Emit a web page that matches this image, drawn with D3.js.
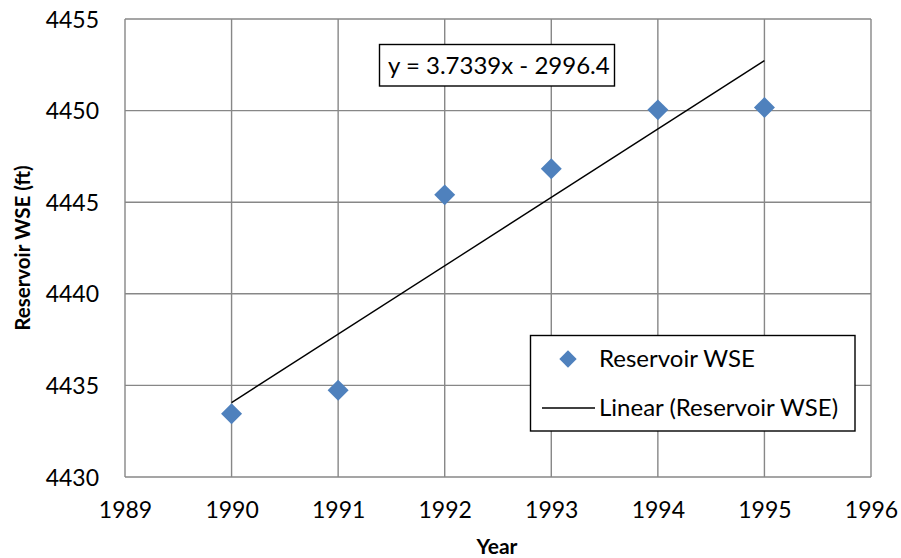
<!DOCTYPE html>
<html><head><meta charset="utf-8">
<script src="https://cdn.jsdelivr.net/npm/d3@7"></script>
<style>body{margin:0;background:#fff}svg{display:block}text{font-family:Lato,"Open Sans",sans-serif}</style>
</head><body><svg id="c" width="901" height="558"></svg>
<script>
const years = [1990, 1991, 1992, 1993, 1994, 1995];
const wse = [4433.45, 4434.73, 4445.40, 4446.82, 4450.04, 4450.17];
const xTicks = [1989, 1990, 1991, 1992, 1993, 1994, 1995, 1996];
const yTicks = [4430, 4435, 4440, 4445, 4450, 4455];
const trendSlope = 3.7339, trendIntercept = -2996.4;
const seriesName = "Reservoir WSE";
const trendName = "Linear (Reservoir WSE)";
const eqLabel = "y = 3.7339x - 2996.4";
const xTitle = "Year", yTitle = "Reservoir WSE (ft)";

const svg = d3.select("#c");
const L = 125, R = 871, T = 19, B = 477;
const x = d3.scaleLinear().domain([1989, 1996]).range([L, R]);
const y = d3.scaleLinear().domain([4430, 4455]).range([B, T]);
const grid = "#878787";

// gridlines
svg.append("g").selectAll("line").data(xTicks).join("line")
  .attr("x1", d => x(d)).attr("x2", d => x(d)).attr("y1", T).attr("y2", B)
  .attr("stroke", grid).attr("stroke-width", 1.4);
svg.append("g").selectAll("line").data(yTicks).join("line")
  .attr("x1", L).attr("x2", R).attr("y1", d => y(d)).attr("y2", d => y(d))
  .attr("stroke", grid).attr("stroke-width", 1.4);

// axes (labels only)
const xAxis = svg.append("g").attr("transform", `translate(0,${B})`)
  .call(d3.axisBottom(x).tickValues(xTicks).tickFormat(d3.format("d")).tickSize(0).tickPadding(0));
xAxis.select(".domain").remove();
xAxis.selectAll("text").attr("font-size", 23).attr("fill", "#000").attr("dy", null).attr("y", 41);

const yAxis = svg.append("g").attr("transform", `translate(${L},0)`)
  .call(d3.axisLeft(y).tickValues(yTicks).tickFormat(d3.format("d")).tickSize(0).tickPadding(0));
yAxis.select(".domain").remove();
yAxis.selectAll("text").attr("font-size", 23).attr("fill", "#000").attr("dy", null).attr("x", -26).attr("y", 8);

// trendline
const tx = d3.extent(years);
svg.append("line")
  .attr("x1", x(tx[0])).attr("y1", y(trendSlope * tx[0] + trendIntercept))
  .attr("x2", x(tx[1])).attr("y2", y(trendSlope * tx[1] + trendIntercept))
  .attr("stroke", "#000").attr("stroke-width", 1.4);

// points
const diamond = d3.symbol().type(d3.symbolSquare).size(220);
svg.append("g").selectAll("path").data(years).join("path")
  .attr("d", diamond)
  .attr("transform", (d, i) => `translate(${x(d)},${y(wse[i])}) rotate(45)`)
  .attr("fill", "#4F81BD");

// equation box
svg.append("rect").attr("x", 379.5).attr("y", 44.5).attr("width", 235).attr("height", 41.5)
  .attr("fill", "#fff").attr("stroke", "#000").attr("stroke-width", 1.4);
svg.append("text").attr("x", 388).attr("y", 74).attr("font-size", 24).text(eqLabel);

// legend
svg.append("rect").attr("x", 530.5).attr("y", 335.5).attr("width", 324.5).attr("height", 95.5)
  .attr("fill", "#fff").attr("stroke", "#000").attr("stroke-width", 1.4);
svg.append("path").attr("d", d3.symbol().type(d3.symbolSquare).size(150))
  .attr("transform", "translate(568,359) rotate(45)").attr("fill", "#4F81BD");
svg.append("text").attr("x", 599).attr("y", 367).attr("font-size", 24).text(seriesName);
svg.append("line").attr("x1", 542).attr("x2", 595).attr("y1", 408).attr("y2", 408)
  .attr("stroke", "#000").attr("stroke-width", 1.4);
svg.append("text").attr("x", 599).attr("y", 416).attr("font-size", 24).text(trendName);

// axis titles
svg.append("text").attr("x", 497).attr("y", 554).attr("text-anchor", "middle")
  .attr("font-size", 21).attr("font-weight", "bold").text(xTitle);
svg.append("text").attr("transform", "translate(30,248) rotate(-90)").attr("text-anchor", "middle")
  .attr("font-size", 20.5).attr("font-weight", "bold").text(yTitle);
</script></body></html>
